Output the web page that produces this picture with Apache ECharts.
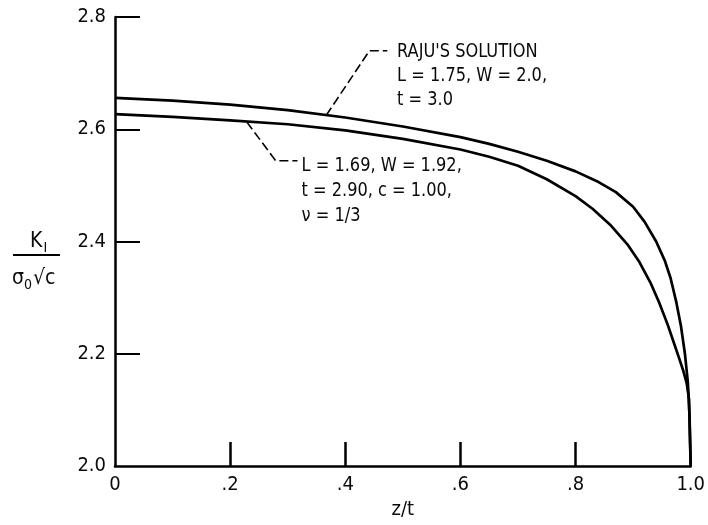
<!DOCTYPE html>
<html>
<head>
<meta charset="utf-8">
<script src="https://cdn.jsdelivr.net/npm/echarts@6/dist/echarts.min.js"></script>
<style>
html,body{margin:0;padding:0;background:#fff;overflow:hidden;}
#c{width:708px;height:525px;}
</style>
</head>
<body>
<div id="c"></div>
<script>
// ---- data ----
var xTickValues = [0.2, 0.4, 0.6, 0.8];
var xLabelValues = [0, 0.2, 0.4, 0.6, 0.8, 1.0];
var xTickLabels = ['0', '.2', '.4', '.6', '.8', '1.0'];
var yTickValues = [2.2, 2.4, 2.6, 2.8];
var yLabelValues = [2.0, 2.2, 2.4, 2.6, 2.8];
var yTickLabels = ['2.0', '2.2', '2.4', '2.6', '2.8'];

var zRaju = [0, 0.1, 0.2, 0.3, 0.4, 0.5, 0.6, 0.65, 0.7, 0.75, 0.8, 0.84, 0.87, 0.9, 0.92, 0.94, 0.955, 0.965, 0.975, 0.983, 0.99, 0.995, 0.998, 1.0];
var kRaju = [2.656, 2.651, 2.644, 2.634, 2.621, 2.605, 2.586, 2.574, 2.560, 2.544, 2.525, 2.506, 2.488, 2.462, 2.435, 2.400, 2.366, 2.335, 2.292, 2.250, 2.200, 2.150, 2.090, 2.000];

var zPresent = [0, 0.1, 0.2, 0.3, 0.4, 0.5, 0.6, 0.65, 0.7, 0.75, 0.8, 0.83, 0.86, 0.89, 0.91, 0.93, 0.945, 0.96, 0.97, 0.98, 0.987, 0.993, 0.997, 1.0];
var kPresent = [2.627, 2.622, 2.616, 2.609, 2.598, 2.583, 2.564, 2.551, 2.535, 2.511, 2.481, 2.458, 2.430, 2.395, 2.365, 2.327, 2.292, 2.252, 2.222, 2.192, 2.170, 2.148, 2.120, 2.000];

// annotation leader lines (data coordinates)
var rajuLeaderZ = [0.367, 0.442, 0.473];
var rajuLeaderK = [2.625, 2.740, 2.740];
var presentLeaderZ = [0.229, 0.279, 0.317];
var presentLeaderK = [2.613, 2.544, 2.544];

var rajuText = ["RAJU'S SOLUTION", "L = 1.75, W = 2.0,", "t = 3.0"];
var presentText = ["L = 1.69, W = 1.92,", "t = 2.90, c = 1.00,", "\u03bd = 1/3"];

function pairs(xs, ys) { return xs.map(function (x, i) { return [x, ys[i]]; }); }
function lookup(vals, labels, v) {
  for (var i = 0; i < vals.length; i++) { if (Math.abs(vals[i] - v) < 1e-6) return labels[i]; }
  return '';
}

var FONT = "'DejaVu Sans Condensed', 'DejaVu Sans', sans-serif";
var INK = '#0a0a0a';
var chart = echarts.init(document.getElementById('c'), null, {renderer: 'canvas', width: 708, height: 525});

var option = {
  animation: false,
  backgroundColor: '#fff',
  grid: {left: 115, right: 16, top: 17, bottom: 51, containLabel: false},
  xAxis: {
    type: 'value', min: 0, max: 1, interval: 0.2,
    name: 'z/t', nameLocation: 'middle', nameGap: 29,
    nameTextStyle: {fontFamily: FONT, fontSize: 20, color: INK},
    axisLine: {show: true, lineStyle: {color: '#000', width: 2.5}},
    axisTick: {show: true, inside: true, length: 24, customValues: xTickValues, lineStyle: {color: '#000', width: 2.5}},
    axisLabel: {
      fontFamily: FONT, fontSize: 20, color: INK, margin: 9, customValues: xLabelValues,
      formatter: function (v) { return lookup(xLabelValues, xTickLabels, v); }
    },
    splitLine: {show: false}
  },
  yAxis: {
    type: 'value', min: 2.0, max: 2.8, interval: 0.2,
    axisLine: {show: true, lineStyle: {color: '#000', width: 2.5}},
    axisTick: {show: true, inside: true, length: 25, customValues: yTickValues, lineStyle: {color: '#000', width: 2}},
    axisLabel: {
      fontFamily: FONT, fontSize: 20, color: INK, margin: 9, customValues: yLabelValues,
      formatter: function (v) { return lookup(yLabelValues, yTickLabels, v); }
    },
    splitLine: {show: false}
  },
  series: [
    {name: "Raju", type: 'line', data: pairs(zRaju, kRaju), smooth: false, showSymbol: false,
     lineStyle: {color: '#000', width: 2.7, join: 'round'}},
    {name: "Present", type: 'line', data: pairs(zPresent, kPresent), smooth: false, showSymbol: false,
     lineStyle: {color: '#000', width: 2.7, join: 'round'}},
    {name: 'rajuLeader', type: 'line', data: pairs(rajuLeaderZ, rajuLeaderK), showSymbol: false, silent: true,
     lineStyle: {color: '#000', width: 1.6, type: [9, 4]}},
    {name: 'presentLeader', type: 'line', data: pairs(presentLeaderZ, presentLeaderK), showSymbol: false, silent: true,
     lineStyle: {color: '#000', width: 1.6, type: [9, 4]}}
  ]
};
chart.setOption(option);

// text annotations anchored to data coordinates
var pR = chart.convertToPixel({gridIndex: 0}, [0.49, 2.740]);
var pP = chart.convertToPixel({gridIndex: 0}, [0.324, 2.544]);
var graphics = [];
rajuText.forEach(function (t, i) {
  graphics.push({type: 'text', x: pR[0], y: pR[1] + 1 + i * 24, scaleX: 0.9,
    style: {text: t, font: '20px ' + FONT, fill: INK, verticalAlign: 'middle'}});
});
presentText.forEach(function (t, i) {
  graphics.push({type: 'text', x: pP[0], y: pP[1] + 5 + i * 25, scaleX: 0.9,
    style: {text: t, font: '20px ' + FONT, fill: INK, verticalAlign: 'middle'}});
});
// y-axis name as a fraction K_I / (sigma_0 sqrt c)
graphics.push({type: 'text', x: 30, y: 242,
  style: {rich: {a: {fontFamily: FONT, fontSize: 21, fill: INK}, s: {fontFamily: FONT, fontSize: 14, fill: INK, padding: [12, 0, 0, 1]}},
    text: '{a|K}{s|I}', verticalAlign: 'middle'}});
graphics.push({type: 'line', shape: {x1: 13, y1: 255, x2: 60, y2: 255}, style: {stroke: '#000', lineWidth: 1.8}});
graphics.push({type: 'text', x: 12, y: 279,
  style: {rich: {a: {fontFamily: FONT, fontSize: 21, fill: INK}, s: {fontFamily: FONT, fontSize: 14, fill: INK, padding: [12, 1, 0, 0]}},
    text: '{a|\u03c3}{s|0}{a|\u221ac}', verticalAlign: 'middle'}});
chart.setOption({graphic: graphics});
</script>
</body>
</html>
